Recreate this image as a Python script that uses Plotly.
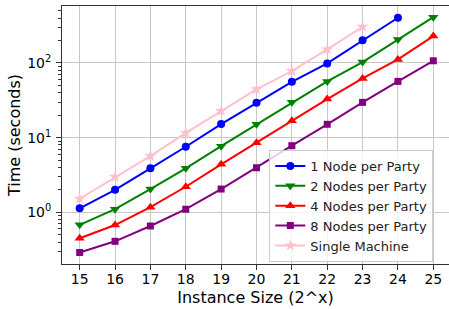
import plotly.graph_objects as go

sizes = [15, 16, 17, 18, 19, 20, 21, 22, 23, 24, 25]
one_node = [1.13, 2.0, 3.88, 7.55, 15.2, 29.3, 56, 98.6, 201, 403]
two_nodes = [0.68, 1.10, 2.05, 3.88, 7.7, 15.1, 29.7, 56.7, 102.8, 207, 411]
four_nodes = [0.449, 0.676, 1.17, 2.2, 4.39, 8.55, 16.8, 32.9, 62.2, 111.7, 229]
eight_nodes = [0.29, 0.409, 0.656, 1.10, 2.05, 3.95, 7.8, 15.1, 29.7, 56.7, 107]
single_machine = [1.52, 2.97, 5.67, 11.6, 22.7, 44.4, 78, 152, 305]

series = [
    ("1 Node per Party", one_node, "blue", "circle", 8),
    ("2 Nodes per Party", two_nodes, "green", "triangle-down", 9),
    ("4 Nodes per Party", four_nodes, "red", "triangle-up", 9),
    ("8 Nodes per Party", eight_nodes, "purple", "square", 7),
    ("Single Machine", single_machine, "pink", "star", 9),
]

fig = go.Figure()
for name, vals, color, sym, ms in series:
    fig.add_trace(go.Scatter(
        x=sizes[:len(vals)], y=vals, name=name, mode="lines+markers",
        line=dict(color=color, width=2),
        marker=dict(symbol=sym, size=ms, color=color),
    ))

font = dict(family="DejaVu Sans", size=14, color="black")
minor_vals = [m * 10 ** e for e in (-1, 0, 1, 2) for m in range(2, 10)]

fig.update_layout(
    width=449, height=309,
    margin=dict(l=62, r=0, t=6, b=45, autoexpand=False),
    paper_bgcolor="white", plot_bgcolor="white",
    font=font,
    showlegend=True,
    legend=dict(
        x=0.5357, y=0.442, xanchor="left", yanchor="top",
        bgcolor="rgba(255,255,255,0.8)", bordercolor="#cccccc", borderwidth=1,
        font=dict(family="DejaVu Sans", size=13, color="#222222"),
        itemwidth=30,
    ),
    xaxis=dict(
        range=[14.5, 25.444], tickvals=sizes, ticktext=[str(s) for s in sizes],
        showgrid=True, gridcolor="#c8c8c8", gridwidth=1,
        showline=True, linecolor="#333333", linewidth=1, mirror=True,
        ticks="outside", ticklen=5, tickcolor="#333333",
        ticklabelstandoff=-3,
        zeroline=False, automargin=False,
        title=dict(text="Instance Size (2^x)", font=dict(family="DejaVu Sans", size=16), standoff=6),
        tickfont=font,
    ),
    yaxis=dict(
        type="log", range=[-0.692, 2.763],
        tickvals=[1, 10, 100],
        ticktext=["10<sup>0</sup>", "10<sup>1</sup>", "10<sup>2</sup>"],
        showgrid=True, gridcolor="#c8c8c8", gridwidth=1,
        showline=True, linecolor="#333333", linewidth=1,
        ticks="outside", ticklen=5, tickcolor="#333333",
        ticklabelstandoff=2,
        minor=dict(tickvals=minor_vals, ticks="outside", ticklen=3, tickcolor="#333333", showgrid=False),
        zeroline=False, automargin=False,
        title=dict(text="Time (seconds)", font=dict(family="DejaVu Sans", size=16), standoff=2),
        tickfont=font,
    ),
)

fig.write_html("out.html", config={"displayModeBar": False},
               post_script="document.body.style.margin='0';")
